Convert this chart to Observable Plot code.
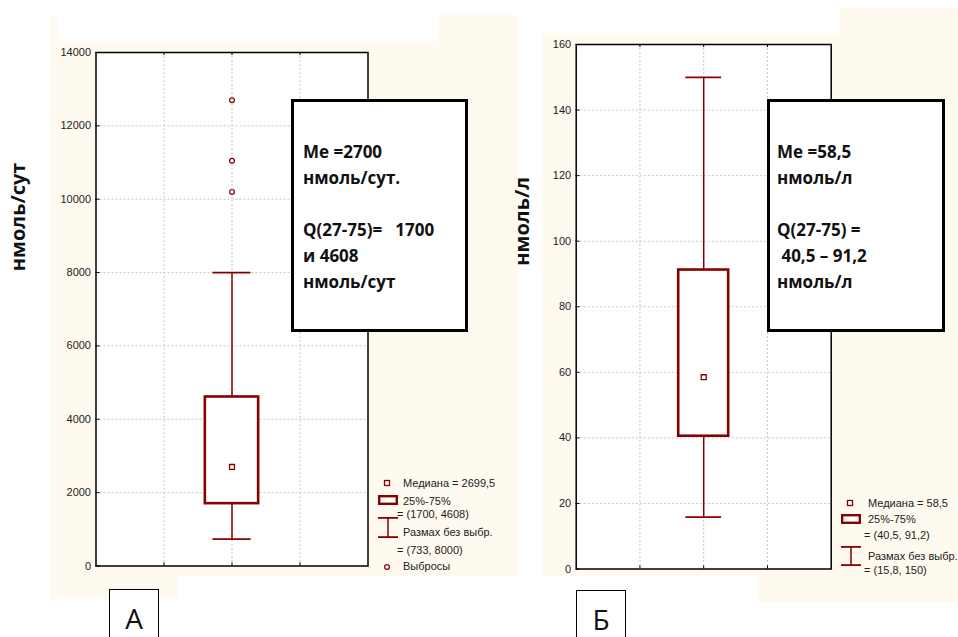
<!DOCTYPE html>
<html><head><meta charset="utf-8">
<script src="https://cdn.jsdelivr.net/npm/d3@7"></script>
<script src="https://cdn.jsdelivr.net/npm/@observablehq/plot@0.6"></script>
<style>
body{margin:0;background:#fff;}
#root{position:relative;width:958px;height:637px;overflow:hidden;background:#fff;font-family:"Liberation Sans",Arial,sans-serif;}
.cream{position:absolute;background:#fffaf0;}
.white{position:absolute;background:#fff;}
.note{position:absolute;box-sizing:border-box;border:3px solid #000;background:#fff;font-family:"Open Sans",sans-serif;font-weight:700;font-size:17px;line-height:26px;color:#111;white-space:pre;}
.lg{position:absolute;font-size:11px;line-height:13px;height:13px;color:#222;white-space:nowrap;}
.tag{position:absolute;box-sizing:border-box;border:1.5px solid #000;border-bottom:none;background:#fff;font-family:"Open Sans",sans-serif;font-size:28px;line-height:36px;padding-top:10px;text-align:center;color:#111;}
.plotwrap{position:absolute;}
</style></head>
<body><div id="root"></div>
<script>
// ---- data ----
const statNames = ["low", "q1", "median", "q3", "high"];
const statsA = [733, 1700, 2699.5, 4608, 8000];
const outliersA = [12700, 11050, 10200];
const ticksA = [0, 2000, 4000, 6000, 8000, 10000, 12000, 14000];
const statsB = [15.8, 40.5, 58.5, 91.2, 150];
const outliersB = [];
const ticksB = [0, 20, 40, 60, 80, 100, 120, 140, 160];
const yLabelA = "нмоль/сут";
const yLabelB = "нмоль/л";
const noteA = ["Me =2700", "нмоль/сут.", "", "Q(27-75)=   1700", "и 4608", "нмоль/сут"];
const noteB = ["Me =58,5", "нмоль/л", "", "Q(27-75) =", " 40,5 – 91,2", "нмоль/л"];
const legendA = ["Медиана = 2699,5", "25%-75%", "= (1700, 4608)", "Размах без выбр.", "= (733, 8000)", "Выбросы"];
const legendB = ["Медиана = 58,5", "25%-75%", "= (40,5, 91,2)", "Размах без выбр.", "= (15,8, 150)"];
const panelTags = ["А", "Б"];

const RED = "#880000";
const BOX = 0.392, CAP = 0.28;
const root = document.getElementById("root");

function div(cls, l, t, w, h, html) {
  const d = document.createElement("div");
  d.className = cls;
  d.style.left = l + "px"; d.style.top = t + "px";
  if (w != null) d.style.width = w + "px";
  if (h != null) d.style.height = h + "px";
  if (html != null) d.textContent = html;
  root.appendChild(d);
  return d;
}

// backgrounds
div("cream", 50, 15, 469, 561);
div("cream", 50, 576, 128, 23);
div("white", 57, 15, 380, 26);
div("cream", 542, 33, 416, 543);
div("cream", 840, 8, 118, 25);
div("cream", 758, 576, 200, 26);

function panel(o) {
  const [low, q1, median, q3, high] = o.stats;
  const row = [Object.fromEntries(statNames.map((k, i) => [k, o.stats[i]]))];
  const yMax = o.ticks[o.ticks.length - 1];
  return Plot.plot({
    width: o.width, height: o.height,
    marginTop: o.mt, marginBottom: o.mb, marginLeft: o.ml, marginRight: o.mr,
    style: {background: "transparent", overflow: "visible", fontFamily: "Liberation Sans, Arial, sans-serif"},
    x: {domain: [0, 4], axis: null},
    y: {domain: [0, yMax], axis: null},
    marks: [
      Plot.frame({fill: "white", stroke: null}),
      Plot.ruleX([1, 2, 3], {stroke: "#c6c6c6", strokeDasharray: "2,2"}),
      Plot.ruleY(o.ticks.filter(t => t > 0 && t < yMax), {stroke: "#c6c6c6", strokeDasharray: "2,2"}),
      Plot.ruleX(row, {x: () => 2, y1: "q3", y2: "high", stroke: RED, strokeWidth: 1.5}),
      Plot.ruleX(row, {x: () => 2, y1: "low", y2: "q1", stroke: RED, strokeWidth: 1.5}),
      Plot.ruleY([low, high], {x1: 2 - CAP, x2: 2 + CAP, stroke: RED, strokeWidth: 1.8}),
      Plot.rect(row, {x1: () => 2 - BOX, x2: () => 2 + BOX, y1: "q1", y2: "q3", fill: "white", stroke: RED, strokeWidth: 2.6}),
      Plot.dot([median], {x: () => 2, y: d => d, symbol: "square", r: 2.8, stroke: RED, fill: "white", strokeWidth: 1.3}),
      Plot.dot(o.outliers, {x: () => 2, y: d => d, r: 2.4, stroke: RED, fill: "white", strokeWidth: 1.2}),
      Plot.ruleY(o.ticks, {x1: 0, x2: 0.06, stroke: "#000"}),
      Plot.ruleX([1, 2, 3], {y1: yMax, y2: yMax - o.tickLen, stroke: "#000"}),
      Plot.ruleX([1, 2, 3], {y1: 0, y2: o.tickLen, stroke: "#000"}),
      Plot.frame({stroke: "#000", strokeWidth: 1.5}),
      Plot.axisY(o.ticks, {tickSize: 0, tickPadding: 5, fontSize: 11, color: "#222", tickFormat: d3.format("d")}),
      Plot.text([o.label], {frameAnchor: "left", rotate: -90, dx: o.labelDx, dy: o.labelDy,
        fontSize: 20, fontWeight: "bold", fontFamily: "Open Sans, sans-serif", fill: "#111"})
    ]
  });
}

function place(svg, l, t) {
  const w = document.createElement("div");
  w.className = "plotwrap";
  w.style.left = l + "px"; w.style.top = t + "px";
  w.appendChild(svg);
  root.appendChild(w);
}

place(panel({stats: statsA, outliers: outliersA, ticks: ticksA, label: yLabelA,
  width: 480, height: 600, mt: 52, mb: 34.5, ml: 95.5, mr: 112.5, tickLen: 85,
  labelDx: -77.5, labelDy: -38}), 0, 0);
place(panel({stats: statsB, outliers: outliersB, ticks: ticksB, label: yLabelB,
  width: 458, height: 600, mt: 44, mb: 31.5, ml: 75.7, mr: 127.3, tickLen: 0.95,
  labelDx: -54, labelDy: -41}), 500, 0);

// annotation boxes
const nA = div("note", 291, 98.5, 177, 233); nA.style.padding = "37px 0 0 9px"; nA.textContent = noteA.join("\n");
const nB = div("note", 767, 98.5, 178, 233); nB.style.padding = "37px 0 0 7px"; nB.textContent = noteB.join("\n");

// legends
function swatch(l, t, w, h, draw) {
  const s = d3.create("svg").attr("width", w).attr("height", h)
    .style("position", "absolute").style("left", l + "px").style("top", t + "px").style("overflow", "visible");
  draw(s);
  root.appendChild(s.node());
}
function legend(items, o) {
  swatch(o.mx - 4, o.y[0] - 4, 8, 8, s => s.append("rect").attr("x", 1.5).attr("y", 1.5).attr("width", 5).attr("height", 5)
    .attr("fill", "white").attr("stroke", RED).attr("stroke-width", 1.3));
  swatch(o.sx, o.boxTop, 20, o.boxH, s => s.append("rect").attr("x", 1.2).attr("y", 1.2).attr("width", 17.6).attr("height", o.boxH - 2.4)
    .attr("fill", "white").attr("stroke", RED).attr("stroke-width", 2.4));
  swatch(o.sx, o.wTop, 20, o.wH, s => {
    s.append("line").attr("x1", 0).attr("x2", 20).attr("y1", 0.9).attr("y2", 0.9).attr("stroke", RED).attr("stroke-width", 1.8);
    s.append("line").attr("x1", 0).attr("x2", 20).attr("y1", o.wH - 0.9).attr("y2", o.wH - 0.9).attr("stroke", RED).attr("stroke-width", 1.8);
    s.append("line").attr("x1", 10).attr("x2", 10).attr("y1", 0).attr("y2", o.wH).attr("stroke", RED).attr("stroke-width", 1.5);
  });
  if (items.length > 5) {
    swatch(o.mx - 4, o.y[5] - 4, 8, 8, s => s.append("circle").attr("cx", 4).attr("cy", 4).attr("r", 2.4)
      .attr("fill", "white").attr("stroke", RED).attr("stroke-width", 1.2));
  }
  items.forEach((t, i) => {
    const x = (i === 2 || i === 4) ? o.eqx : o.tx;
    div("lg", x, o.y[i] - 6.5, null, null, t);
  });
}
legend(legendA, {mx: 386.7, sx: 378, tx: 403, eqx: 397, y: [483, 501.5, 514.5, 532, 550, 566.5], boxTop: 494.5, boxH: 10, wTop: 517, wH: 21});
legend(legendB, {mx: 850, sx: 841, tx: 868, eqx: 864, y: [503, 519, 535, 556.5, 570], boxTop: 513.5, boxH: 10, wTop: 546, wH: 20});

// panel tags
div("tag", 109, 589, 50, 60, panelTags[0]);
div("tag", 576, 590, 50, 60, panelTags[1]);
</script></body></html>
